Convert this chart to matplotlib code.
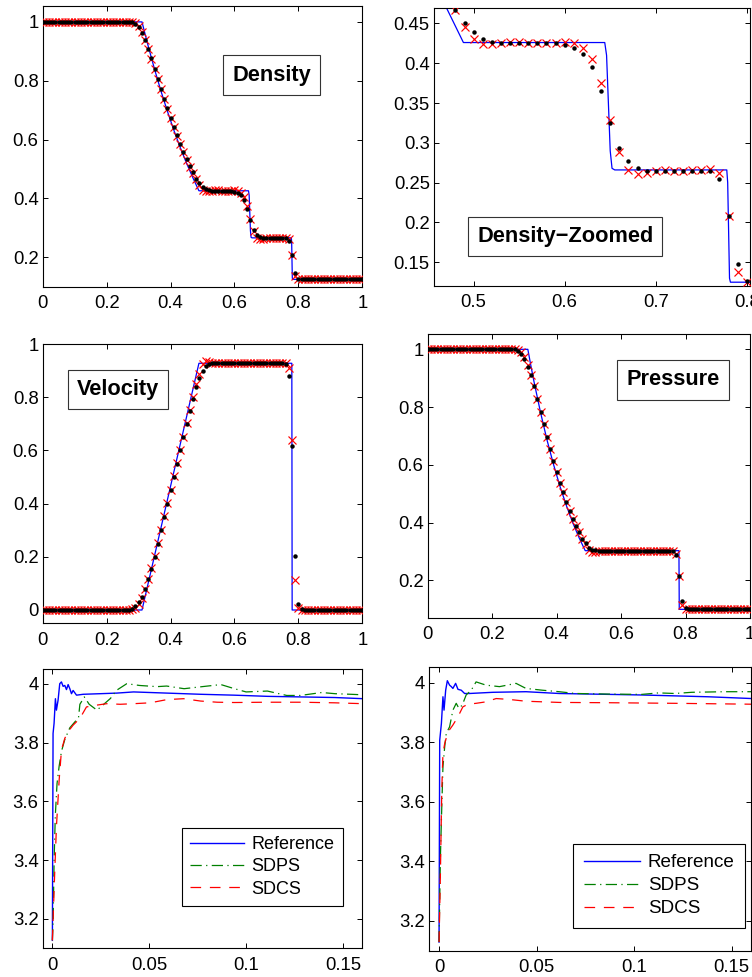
import numpy as np
import matplotlib
matplotlib.use("Agg")
import matplotlib.pyplot as plt

plt.rcParams['font.family'] = ['Liberation Sans', 'DejaVu Sans']

# ---------------- data ----------------
x_cells = [round(i * 0.01, 2) for i in range(101)]

rho_dot = ([1.0] * 28 +
           [0.998, 0.993, 0.984, 0.962, 0.937, 0.907, 0.876, 0.840, 0.807, 0.773,
            0.739, 0.706, 0.674, 0.643, 0.614, 0.586, 0.559, 0.534, 0.511, 0.490,
            0.467, 0.451, 0.439, 0.431, 0.427, 0.425] +
           [0.425] * 6 +
           [0.423, 0.419, 0.411, 0.395, 0.365, 0.325, 0.294, 0.277, 0.269, 0.265] +
           [0.265] * 7 +
           [0.255, 0.208, 0.148, 0.127] +
           [0.125] * 20)

rho_x = ([1.0] * 28 +
         [0.999, 0.995, 0.986, 0.964, 0.938, 0.907, 0.875, 0.840, 0.806, 0.772,
          0.738, 0.705, 0.673, 0.642, 0.612, 0.584, 0.557, 0.531, 0.507, 0.486,
          0.467, 0.445, 0.430, 0.424, 0.424, 0.4257] +
         [0.427, 0.427, 0.426, 0.4257, 0.4257, 0.426] +
         [0.427, 0.425, 0.4195, 0.405, 0.3747, 0.3287, 0.288, 0.2657, 0.2607, 0.2623] +
         [0.265, 0.2657, 0.265, 0.265, 0.2653, 0.2657, 0.2669] +
         [0.2623, 0.208, 0.1375, 0.1257] +
         [0.125] * 20)

u_dot = ([0.0] * 28 +
         [0.004, 0.015, 0.029, 0.049, 0.078, 0.116, 0.156, 0.200, 0.250, 0.300,
          0.350, 0.400, 0.450, 0.500, 0.550, 0.600, 0.650, 0.700, 0.748, 0.795,
          0.840, 0.874, 0.900, 0.916, 0.925, 0.927] +
         [0.927] * 22 +
         [0.925] +
         [0.878, 0.618, 0.202, 0.023, 0.002] +
         [0.0] * 19)

u_x = ([0.0] * 28 +
       [0.002, 0.008, 0.022, 0.045, 0.078, 0.117, 0.158, 0.203, 0.252, 0.302,
        0.352, 0.402, 0.452, 0.502, 0.552, 0.602, 0.652, 0.702, 0.752, 0.800,
        0.848, 0.888, 0.925, 0.935, 0.933, 0.930] +
       [0.927] * 22 +
       [0.927] +
       [0.910, 0.638, 0.113, 0.008] +
       [0.0] * 20)

p_dot = ([1.0] * 28 +
         [0.995, 0.985, 0.965, 0.940, 0.912, 0.873, 0.828, 0.784, 0.740, 0.695,
          0.654, 0.613, 0.574, 0.538, 0.505, 0.471, 0.441, 0.413, 0.389, 0.366,
          0.345, 0.328, 0.314, 0.306, 0.304, 0.303] +
         [0.303] * 23 +
         [0.288, 0.216, 0.130, 0.106, 0.101] +
         [0.1] * 19)

p_x = ([1.0] * 28 +
       [0.997, 0.990, 0.975, 0.945, 0.912, 0.873, 0.828, 0.784, 0.740, 0.695,
        0.654, 0.613, 0.574, 0.538, 0.505, 0.471, 0.441, 0.413, 0.389, 0.366,
        0.345, 0.326, 0.305, 0.299, 0.299, 0.301] +
       [0.303] * 23 +
       [0.293, 0.216, 0.115, 0.100, 0.100] +
       [0.1] * 19)

# reference (exact) solution
rho_ref_x = [0, 0.3107, 0.32, 0.33, 0.35, 0.37, 0.39, 0.41, 0.43, 0.45, 0.47, 0.4888,
             0.644, 0.646, 0.648, 0.650, 0.652, 0.655, 0.778, 0.779, 0.780, 0.781, 0.782, 1.0]
rho_ref_y = [1, 1, 0.960, 0.918, 0.839, 0.765, 0.697, 0.633, 0.574, 0.520, 0.470, 0.426,
             0.426, 0.41, 0.35, 0.29, 0.268, 0.266, 0.266, 0.25, 0.19, 0.13, 0.125, 0.125]
u_ref_x = [0, 0.3107, 0.4888, 0.7795, 0.7805, 1.0]
u_ref_y = [0, 0, 0.9275, 0.9275, 0, 0]
p_ref_x = [0, 0.3107, 0.32, 0.33, 0.35, 0.37, 0.39, 0.41, 0.43, 0.45, 0.47, 0.4888,
           0.7795, 0.7805, 1.0]
p_ref_y = [1, 1, 0.944, 0.887, 0.782, 0.687, 0.603, 0.527, 0.460, 0.400, 0.347, 0.303,
           0.303, 0.1, 0.1]

# time histories (left panel)
L_ref_t = [0, 0.00035, 0.00087, 0.00156, 0.00208, 0.00294, 0.0038, 0.00467, 0.00554, 0.0064,
           0.00727, 0.00813, 0.009, 0.00986, 0.0107, 0.01246, 0.0159, 0.0246, 0.0332, 0.0419,
           0.0592, 0.0765, 0.0938, 0.111, 0.1284, 0.1457, 0.1604]
L_ref_v = [3.127, 3.831, 3.865, 3.949, 3.910, 3.944, 4.0, 4.006, 3.991, 3.994,
           3.980, 3.997, 3.983, 3.966, 3.977, 3.961, 3.964, 3.966, 3.968, 3.972,
           3.968, 3.964, 3.961, 3.957, 3.955, 3.953, 3.949]
L_sdps_t = [0, 0.0004, 0.0009, 0.0015, 0.0024, 0.0035, 0.0047, 0.0064, 0.009, 0.0116,
            0.0135, 0.0142, 0.0165, 0.019, 0.023, 0.026, 0.03, 0.033, 0.0384, 0.045,
            0.054, 0.059, 0.068, 0.076, 0.087, 0.094, 0.1, 0.111, 0.121, 0.128,
            0.139, 0.146, 0.154, 0.161]
L_sdps_v = [3.127, 3.20, 3.40, 3.55, 3.66, 3.72, 3.77, 3.81, 3.85, 3.87,
            3.885, 3.93, 3.955, 3.93, 3.91, 3.927, 3.95, 3.977, 4.0, 3.994,
            3.99, 3.992, 3.983, 3.989, 3.997, 3.983, 3.972, 3.975, 3.96, 3.96,
            3.97, 3.966, 3.964, 3.962]
L_sdcs_t = [0, 0.0012, 0.0021, 0.0035, 0.0047, 0.0064, 0.0081, 0.0107, 0.0142, 0.0176,
            0.0228, 0.028, 0.035, 0.0419, 0.0505, 0.0592, 0.0678, 0.0765, 0.0851, 0.0938,
            0.111, 0.1284, 0.1457, 0.1604]
L_sdcs_v = [3.127, 3.358, 3.515, 3.673, 3.775, 3.814, 3.837, 3.859, 3.882, 3.921,
            3.927, 3.932, 3.930, 3.932, 3.935, 3.946, 3.949, 3.941, 3.937, 3.936,
            3.937, 3.937, 3.935, 3.932]

# time histories (right panel)
R_ref_t = [0, 0.00034, 0.0012, 0.002, 0.00255, 0.0034, 0.00425, 0.0054, 0.0063, 0.0071,
           0.0085, 0.0097, 0.0114, 0.0131, 0.0156, 0.0276, 0.0446, 0.0616, 0.0786, 0.104,
           0.138, 0.1605]
R_ref_v = [3.129, 3.807, 3.863, 3.953, 3.908, 3.975, 4.007, 3.992, 3.987, 3.981,
           3.998, 3.978, 3.975, 3.964, 3.964, 3.968, 3.970, 3.964, 3.962, 3.959,
           3.953, 3.947]
R_sdps_t = [0, 0.0007, 0.0014, 0.002, 0.0029, 0.0037, 0.0054, 0.0071, 0.0088, 0.0102,
            0.0119, 0.0139, 0.0165, 0.019, 0.0241, 0.031, 0.0395, 0.0446, 0.053, 0.0616,
            0.070, 0.087, 0.104, 0.1126, 0.121, 0.1296, 0.1466, 0.1605]
R_sdps_v = [3.129, 3.415, 3.583, 3.718, 3.785, 3.830, 3.852, 3.908, 3.931, 3.914,
            3.925, 3.959, 3.975, 4.003, 3.992, 3.987, 3.998, 3.981, 3.975, 3.970,
            3.964, 3.962, 3.961, 3.966, 3.964, 3.968, 3.970, 3.970]
R_sdcs_t = [0, 0.0007, 0.0014, 0.002, 0.0029, 0.0046, 0.0071, 0.0097, 0.0122, 0.0148,
            0.019, 0.0241, 0.0293, 0.036, 0.0446, 0.0616, 0.087, 0.121, 0.1605]
R_sdcs_v = [3.129, 3.359, 3.639, 3.762, 3.796, 3.835, 3.858, 3.886, 3.919, 3.928,
            3.931, 3.936, 3.947, 3.944, 3.938, 3.934, 3.933, 3.931, 3.928]

legend_labels = ['Reference', 'SDPS', 'SDCS']
x01_ticks = [0, 0.2, 0.4, 0.6, 0.8, 1]
x01_labels = ['0', '0.2', '0.4', '0.6', '0.8', '1']
rho_ticks = [0.2, 0.4, 0.6, 0.8, 1]
rho_labels = ['0.2', '0.4', '0.6', '0.8', '1']
zoom_xticks = [0.5, 0.6, 0.7, 0.8]
zoom_xlabels = ['0.5', '0.6', '0.7', '0.8']
zoom_yticks = [0.15, 0.2, 0.25, 0.3, 0.35, 0.4, 0.45]
zoom_ylabels = ['0.15', '0.2', '0.25', '0.3', '0.35', '0.4', '0.45']
u_ticks = [0, 0.2, 0.4, 0.6, 0.8, 1]
u_labels = ['0', '0.2', '0.4', '0.6', '0.8', '1']
t_ticks = [0, 0.05, 0.1, 0.15]
t_labels = ['0', '0.05', '0.1', '0.15']
v_ticks = [3.2, 3.4, 3.6, 3.8, 4]
v_labels = ['3.2', '3.4', '3.6', '3.8', '4']

# ---------------- figure ----------------
W, H = 752, 977
fig = plt.figure(figsize=(W / 100, H / 100), dpi=100)


def add_ax(l, t, r, b):
    return fig.add_axes([l / W, 1 - b / H, (r - l) / W, (b - t) / H])


ax1 = add_ax(42.7, 6, 362.3, 286.7)
ax2 = add_ax(434, 8.3, 750, 285.7)
ax3 = add_ax(42.7, 344, 362.3, 623.3)
ax4 = add_ax(427.7, 334.3, 750, 617.7)
ax5 = add_ax(42.7, 669, 362.3, 948.3)
ax6 = add_ax(429.3, 666.7, 751, 950.7)

TICK_FS = 13.3


def style(ax):
    for s in ax.spines.values():
        s.set_linewidth(0.8)
    ax.tick_params(direction='in', top=True, right=True, length=3.5, width=0.7,
                   labelsize=TICK_FS)
    ax.tick_params(axis='x', pad=6)
    ax.tick_params(axis='y', pad=3)


def profile(ax, rx, ry, xd, yd, yx):
    ax.plot(rx, ry, color='#0000ff', lw=0.9, zorder=2)
    ax.plot(xd, yx, linestyle='none', marker='x', ms=6.0, mew=0.85, color='red', zorder=3)
    ax.plot(xd, yd, linestyle='none', marker='o', ms=3.2, mew=0, color='black', zorder=4)


def label_box(ax, x, y, s):
    ax.text(x, y, s, transform=ax.transAxes, ha='center', va='center',
            fontsize=15.7, fontweight='bold', zorder=6,
            bbox=dict(boxstyle='square,pad=0.42', fc='white', ec='#333333', lw=0.8))


# density
profile(ax1, rho_ref_x, rho_ref_y, x_cells, rho_dot, rho_x)
ax1.set_xlim(0, 1)
ax1.set_ylim(0.1, 1.054)
ax1.set_xticks(x01_ticks, x01_labels)
ax1.set_yticks(rho_ticks, rho_labels)
label_box(ax1, 0.717, 0.754, 'Density')

# density zoomed
profile(ax2, rho_ref_x, rho_ref_y, x_cells, rho_dot, rho_x)
ax2.set_xlim(0.4565, 0.8035)
ax2.set_ylim(0.1206, 0.469)
ax2.set_xticks(zoom_xticks, zoom_xlabels)
ax2.set_yticks(zoom_yticks, zoom_ylabels)
label_box(ax2, 0.415, 0.177, 'Density\u2212Zoomed')

# velocity
profile(ax3, u_ref_x, u_ref_y, x_cells, u_dot, u_x)
ax3.set_xlim(0, 1)
ax3.set_ylim(-0.05, 1.0)
ax3.set_xticks(x01_ticks, x01_labels)
ax3.set_yticks(u_ticks, u_labels)
label_box(ax3, 0.235, 0.836, 'Velocity')

# pressure
profile(ax4, p_ref_x, p_ref_y, x_cells, p_dot, p_x)
ax4.set_xlim(0, 1)
ax4.set_ylim(0.071, 1.052)
ax4.set_xticks(x01_ticks, x01_labels)
ax4.set_yticks(rho_ticks, rho_labels)
label_box(ax4, 0.761, 0.839, 'Pressure')


def history(ax, rt, rv, gt, gv, st, sv, lx, ly, fs, bp):
    ax.plot(rt, rv, color='#0000ff', lw=1.0, label=legend_labels[0])
    ax.plot(gt, gv, color='#008000', lw=0.9, dashes=(9, 3.5, 1, 3.5), label=legend_labels[1])
    ax.plot(st, sv, color='#ff0000', lw=0.9, dashes=(8.5, 7), label=legend_labels[2])
    ax.set_xlim(-0.005, 0.16)
    ax.set_ylim(3.1, 4.05)
    ax.set_xticks(t_ticks, t_labels)
    ax.set_yticks(v_ticks, v_labels)
    leg = ax.legend(loc='center', bbox_to_anchor=(lx, ly), fontsize=fs,
                    handlelength=3.0, handletextpad=0.4, borderpad=bp,
                    labelspacing=0.3, fancybox=False, framealpha=1,
                    edgecolor='black', borderaxespad=0)
    leg.get_frame().set_linewidth(0.8)


history(ax5, L_ref_t, L_ref_v, L_sdps_t, L_sdps_v, L_sdcs_t, L_sdcs_v, 0.687, 0.292, 13, 0.45)
history(ax6, R_ref_t, R_ref_v, R_sdps_t, R_sdps_v, R_sdcs_t, R_sdcs_v, 0.715, 0.229, 13.6, 0.55)
ax6.set_ylim(3.1, 4.054)

for ax in (ax1, ax2, ax3, ax4, ax5, ax6):
    style(ax)

fig.savefig('out.png', dpi=100)
